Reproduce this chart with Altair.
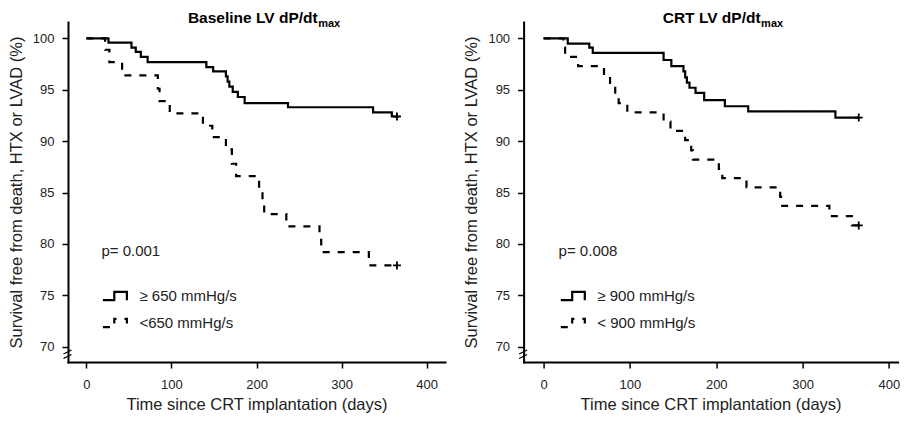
import altair as alt
import pandas as pd

# ---------------- data ----------------
x_ticks = [0, 100, 200, 300, 400]
y_ticks = [70, 75, 80, 85, 90, 95, 100]

baseline_hi_label = "≥ 650 mmHg/s"
baseline_lo_label = "<650 mmHg/s"
baseline_hi_days = [0, 26, 53, 58, 64, 72, 141, 149, 164, 166, 168, 172, 178, 186, 237, 337, 359, 365]
baseline_hi_surv = [100, 99.6, 99.1, 98.7, 98.2, 97.7, 97.2, 96.8, 96.3, 95.8, 95.3, 94.8, 94.3, 93.7, 93.3, 92.8, 92.4, 92.4]
baseline_lo_days = [0, 22, 27, 42, 84, 86, 98, 137, 148, 164, 171, 176, 203, 207, 209, 235, 274, 276, 332, 365]
baseline_lo_surv = [100, 98.9, 97.7, 96.4, 95.1, 93.9, 92.7, 91.5, 90.4, 89.2, 87.8, 86.6, 85.3, 84.1, 82.9, 81.7, 80.4, 79.2, 77.9, 77.9]
baseline_p = "p= 0.001"

crt_hi_label = "≥ 900 mmHg/s"
crt_lo_label = "< 900 mmHg/s"
crt_hi_days = [0, 28, 53, 57, 139, 148, 162, 164, 166, 169, 176, 186, 210, 237, 338, 365]
crt_hi_surv = [100, 99.5, 99.1, 98.6, 97.9, 97.3, 96.8, 96.2, 95.7, 95.2, 94.7, 94.0, 93.4, 92.9, 92.3, 92.3]
crt_lo_days = [0, 23, 25, 40, 70, 77, 83, 87, 97, 139, 147, 164, 171, 173, 203, 207, 235, 274, 275, 331, 357, 365]
crt_lo_surv = [100, 99.1, 98.2, 97.3, 96.4, 95.5, 94.6, 93.7, 92.8, 91.9, 91.0, 90.1, 89.1, 88.2, 87.3, 86.4, 85.5, 84.6, 83.7, 82.7, 81.8, 81.8]
crt_p = "p= 0.008"

baseline_title = "Baseline LV dP/dt"
crt_title = "CRT LV dP/dt"
title_sub = "max"

x_title = "Time since CRT implantation (days)"
y_title = "Survival free from death, HTX or LVAD (%)"

# ---------------- styling / layout ----------------
FONT = "Liberation Sans"
TXT = "#222222"
PLOT_H = 340
Y_DOMAIN = [68.5, 101.6]
STEP_GLYPH = "M-1,0.35H-0.05V-0.35H1V0.35"
PLUS = "M-1,0H1M0,-1V1"


def panel(title, hi_label, lo_label, hi_days, hi_surv, lo_days, lo_surv, ptxt,
          x_domain, width, title_x, p_x, leg_x):
    df = pd.DataFrame({
        "day": hi_days + lo_days,
        "surv": hi_surv + lo_surv,
        "group": [hi_label] * len(hi_days) + [lo_label] * len(lo_days),
    })
    ends = pd.DataFrame({
        "day": [hi_days[-1], lo_days[-1]],
        "surv": [hi_surv[-1], lo_surv[-1]],
    })
    xs = alt.Scale(domain=x_domain, nice=False, zero=False)
    ys = alt.Scale(domain=Y_DOMAIN, nice=False, zero=False)
    x = alt.X("day:Q", scale=xs,
              axis=alt.Axis(values=x_ticks, title=x_title, labelPadding=10, titlePadding=5))
    y = alt.Y("surv:Q", scale=ys,
              axis=alt.Axis(values=y_ticks, title=y_title, labelPadding=8, titlePadding=8))

    lines = alt.Chart(df).mark_line(
        interpolate="step-after", color="black", strokeWidth=2.2, strokeCap="butt"
    ).encode(
        x=x, y=y,
        strokeDash=alt.StrokeDash(
            "group:N",
            scale=alt.Scale(domain=[hi_label, lo_label], range=[[1, 0], [7, 8]]),
            legend=alt.Legend(
                title=None, orient="none", legendX=leg_x, legendY=260.5,
                symbolType=STEP_GLYPH, symbolSize=576, symbolStrokeWidth=2.2,
                symbolStrokeColor="black", symbolFillColor="transparent",
                labelFont=FONT, labelFontSize=15, labelColor=TXT, labelOffset=11,
                rowPadding=4, padding=0, labelLimit=0,
            ),
        ),
    )
    censor = alt.Chart(ends).mark_point(
        shape=PLUS, filled=False, color="black", strokeWidth=1.8, size=64, opacity=1
    ).encode(x=x, y=y)

    one = pd.DataFrame({"a": [0]})
    t_main = alt.Chart(one).mark_text(
        text=title, font=FONT, fontSize=15.5, fontWeight="bold", color="black",
        align="right", baseline="alphabetic"
    ).encode(x=alt.value(title_x), y=alt.value(1))
    t_sub = alt.Chart(one).mark_text(
        text=title_sub, font=FONT, fontSize=11, fontWeight="bold", color="black",
        align="left", baseline="alphabetic"
    ).encode(x=alt.value(title_x + 0.5), y=alt.value(4.5))
    p_text = alt.Chart(one).mark_text(
        text=ptxt, font=FONT, fontSize=15, color=TXT, align="left", baseline="alphabetic"
    ).encode(x=alt.value(p_x), y=alt.value(234))
    brk1 = alt.Chart(one).mark_rule(color="black", strokeWidth=1.3).encode(
        x=alt.value(-4.5), x2=alt.value(3.5), y=alt.value(332), y2=alt.value(328))
    brk2 = alt.Chart(one).mark_rule(color="black", strokeWidth=1.3).encode(
        x=alt.value(-4.5), x2=alt.value(3.5), y=alt.value(336.5), y2=alt.value(332.5))

    return alt.layer(lines, censor, t_main, t_sub, p_text, brk1, brk2).properties(
        width=width, height=PLOT_H)


left = panel(baseline_title, baseline_hi_label, baseline_lo_label,
             baseline_hi_days, baseline_hi_surv, baseline_lo_days, baseline_lo_surv,
             baseline_p, [-21.6, 421.5], 377, 249.7, 33.4, 33.4)
right = panel(crt_title, crt_hi_label, crt_lo_label,
              crt_hi_days, crt_hi_surv, crt_lo_days, crt_lo_surv,
              crt_p, [-23.1, 410], 374, 237, 35, 35.7)

chart = alt.hconcat(left, right, spacing=18.6).resolve_scale(
    strokeDash="independent"
).properties(
    padding={"left": 0, "top": 3, "right": 0, "bottom": 0}
).configure_view(stroke=None).configure_axis(
    grid=False, domainColor="black", domainWidth=2, domainCap="square",
    tickColor="black", tickWidth=1.5, tickSize=6,
    labelFont=FONT, labelFontSize=13, labelColor=TXT,
    titleFont=FONT, titleFontSize=16.5, titleFontWeight="normal", titleColor=TXT,
)

chart.save("out.html", embed_options={"renderer": "svg", "actions": False})
